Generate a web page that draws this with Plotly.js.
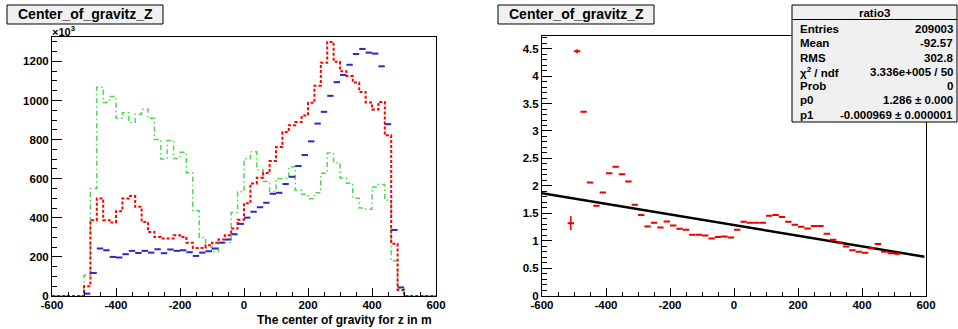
<!DOCTYPE html>
<html><head><meta charset="utf-8">
<script src="https://cdn.plot.ly/plotly-3.0.1.min.js"></script>
<style>html,body{margin:0;padding:0;background:#fff}#chart{width:958px;height:329px}</style>
</head><body><div id="chart"></div>
<script>
// ---- data (left panel: histograms, values in units of 10^3) ----
const binStarts = [-600,-580,-560,-540,-520,-500,-480,-460,-440,-420,-400,-380,-360,-340,-320,-300,-280,-260,-240,-220,
  -200,-180,-160,-140,-120,-100,-80,-60,-40,-20,0,20,40,60,80,100,120,140,160,180,
  200,220,240,260,280,300,320,340,360,380,400,420,440,460,480,500,520,540,560,580];
const binWidth = 20;
const redVals = [0,0,0,0,0,50,388,499,388,376,434,499,511,456,379,328,302,294,294,311,
  302,273,246,246,260,273,289,311,345,390,475,576,605,629,690,762,839,873,890,923,
  988,1075,1193,1300,1198,1150,1125,1092,1044,990,954,993,822,267,31,0,0,0,0,0];
const blueVals = [0,0,0,0,0,12,118,243,234,200,197,214,231,220,231,222,239,219,238,231,
  234,224,205,222,229,243,273,289,316,369,401,431,454,477,523,528,573,610,665,721,
  791,882,942,1024,1094,1131,1183,1238,1264,1245,1240,1175,879,338,44,0,0,0,0,0];
const greenVals = [0,0,0,0,0,106,550,1068,990,1020,909,938,887,930,955,909,801,701,795,704,
  735,631,436,299,251,226,272,272,427,533,702,738,644,586,535,601,601,661,541,520,
  498,528,628,732,682,604,577,500,450,444,558,571,490,180,40,0,0,0,0,0];

// ---- data (right panel: ratio3 with linear fit) ----
const ratioX = [-510,-490,-470,-450,-430,-410,-390,-370,-350,-330,-310,-290,-270,-250,-230,-210,-190,-170,-150,-130,
  -110,-90,-70,-50,-30,-10,10,30,50,70,90,110,130,150,170,190,210,230,250,270,
  290,310,330,350,370,390,410,430,450,470,490,510];
const ratioY = [1.32,4.45,3.35,2.06,1.64,1.88,2.23,2.35,2.21,2.08,1.655,1.47,1.26,1.33,1.24,1.35,1.28,1.22,1.20,1.11,
  1.11,1.095,1.04,1.07,1.08,1.06,1.20,1.345,1.33,1.33,1.33,1.455,1.47,1.435,1.345,1.29,1.255,1.225,1.27,1.27,
  1.13,1.02,0.97,0.894,0.83,0.80,0.78,0.865,0.94,0.80,0.775,0.765];
const ratioErr = [0.13,0.04,0.01,0.005,0.005,0.005,0.005,0.005,0.005,0.005,0.005,0.005,0.005,0.005,0.005,0.005,0.005,0.005,0.005,0.005,
  0.005,0.005,0.005,0.005,0.005,0.005,0.005,0.005,0.005,0.005,0.005,0.005,0.005,0.005,0.005,0.005,0.005,0.005,0.005,0.005,
  0.005,0.005,0.005,0.005,0.005,0.005,0.005,0.005,0.005,0.005,0.01,0.03];
const fitX = [-600, 595];
const fitY = [1.867, 0.710];

// ---- tick labels ----
const xTickVals = [-600,-400,-200,0,200,400,600];
const xTickText = ['-600','-400','-200','0','200','400','600'];
const yTickVals = [0,200,400,600,800,1000,1200];
const yTickText = ['0','200','400','600','800','1000','1200'];
const y2TickVals = [0,0.5,1,1.5,2,2.5,3,3.5,4,4.5];
const y2TickText = ['0','0.5','1','1.5','2','2.5','3','3.5','4','4.5'];

const statLabels = ['Entries','Mean','RMS','χ<sup>2</sup> / ndf','Prob','p0','p1'];
const statValues = ['209003','-92.57','302.8','3.336e+005 / 50','0','1.286 ± 0.000','-0.000969 ± 0.000001'];
const panelTitle = 'Center_of_gravitz_Z';
const statTitle = 'ratio3';
const xTitle = 'The center of gravity for z in m';

// ---- build ----
const W = 958, H = 329;
const fx = v => v / W;
const fy = v => 1 - v / H;
const FONT = 'Liberation Sans, Arial, Helvetica, sans-serif';
const bold = arr => arr.map(s => '<b>' + s + '</b>');

function stepTrace(vals, color, dash, width) {
  const xs = binStarts.concat([binStarts[binStarts.length-1] + binWidth]);
  const ys = vals.concat([vals[vals.length-1]]);
  return {x: xs, y: ys, mode: 'lines', xaxis: 'x', yaxis: 'y', hoverinfo: 'skip',
    line: {shape: 'hv', color: color, width: width, dash: dash}};
}
const bx = [], by = [];
blueVals.forEach((v, i) => { if (v > 0) { bx.push(binStarts[i] + binWidth/2); by.push(v); } });

const traces = [
  stepTrace(greenVals, 'rgb(80,215,80)', '5px,3px,1.5px,3px', 1.5),
  stepTrace(redVals, 'rgb(255,0,0)', '3px,2px', 2),
  {x: bx, y: by, mode: 'markers', xaxis: 'x', yaxis: 'y', marker: {size: 1, color: 'rgb(40,40,210)'},
   error_x: {type: 'constant', value: binWidth/2, thickness: 2, width: 0, color: 'rgb(40,40,210)'}},
  {x: fitX, y: fitY, mode: 'lines', xaxis: 'x2', yaxis: 'y2', line: {color: '#000', width: 2.5}},
  {x: ratioX, y: ratioY, mode: 'markers', xaxis: 'x2', yaxis: 'y2', marker: {size: 1, color: 'rgb(235,0,0)'},
   error_x: {type: 'constant', value: binWidth/2, thickness: 2, width: 0, color: 'rgb(235,0,0)'},
   error_y: {type: 'data', array: ratioErr, thickness: 1.5, width: 0, color: 'rgb(235,0,0)'}}
];

const tickfont = {family: FONT, size: 11.5, color: '#000'};
function axisBase(extra) {
  return Object.assign({showline: true, mirror: true, linecolor: '#000', linewidth: 1,
    ticks: 'inside', tickcolor: '#000', tickwidth: 1, showgrid: false, zeroline: false,
    tickfont: tickfont, fixedrange: true, tickmode: 'array'}, extra);
}
const layout = {
  width: W, height: H, margin: {l: 0, r: 0, t: 0, b: 0},
  paper_bgcolor: '#fff', plot_bgcolor: '#fff', showlegend: false,
  xaxis: axisBase({domain: [fx(52), fx(436)], range: [-600, 600], anchor: 'y', tickvals: xTickVals, ticktext: bold(xTickText),
    ticklen: 8, ticklabelstandoff: -2,
    minor: {ticks: 'inside', tickmode: 'linear', tick0: -600, dtick: 50, ticklen: 4, tickcolor: '#000'}}),
  yaxis: axisBase({domain: [fy(296), fy(37)], range: [0, 1325], anchor: 'x', tickvals: yTickVals, ticktext: bold(yTickText),
    ticklen: 10,
    minor: {ticks: 'inside', tickmode: 'linear', tick0: 0, dtick: 50, ticklen: 5, tickcolor: '#000'}}),
  xaxis2: axisBase({domain: [fx(542), fx(926)], range: [-600, 600], anchor: 'y2', tickvals: xTickVals, ticktext: bold(xTickText),
    ticklen: 8, ticklabelstandoff: -2,
    minor: {ticks: 'inside', tickmode: 'linear', tick0: -600, dtick: 50, ticklen: 4, tickcolor: '#000'}}),
  yaxis2: axisBase({domain: [fy(295.7), fy(36)], range: [0, 4.73], anchor: 'x2', tickvals: y2TickVals, ticktext: bold(y2TickText),
    ticklen: 10,
    minor: {ticks: 'inside', tickmode: 'linear', tick0: 0, dtick: 0.1, ticklen: 5, tickcolor: '#000'}}),
  shapes: [], annotations: []
};

function box(x0, y0, x1, y1, fill) {
  layout.shapes.push({type: 'rect', xref: 'paper', yref: 'paper', x0: fx(x0), x1: fx(x1), y0: fy(y1), y1: fy(y0),
    fillcolor: fill, line: {color: '#000', width: 1}, layer: 'above'});
}
function text(t, x, y, anchor, size) {
  layout.annotations.push({text: '<b>' + t + '</b>', x: fx(x), y: fy(y), xref: 'paper', yref: 'paper', xanchor: anchor, yanchor: 'middle',
    showarrow: false, font: {family: FONT, size: size, color: '#000'}});
}
// title boxes
box(7, 5, 163, 24, '#f0f0f0');
text(panelTitle, 85, 14.5, 'center', 14);
box(498, 5, 654, 24, '#f0f0f0');
text(panelTitle, 576, 14.5, 'center', 14);
// stats box
box(792, 5, 957, 122, '#f0f0f0');
layout.shapes.push({type: 'line', xref: 'paper', yref: 'paper', x0: fx(792), x1: fx(957), y0: fy(19.5), y1: fy(19.5),
  line: {color: '#000', width: 1}, layer: 'above'});
text(statTitle, 874.5, 12.5, 'center', 11.5);
const rowY = [29, 43.3, 57.6, 71.9, 86.2, 100.5, 114.8];
statLabels.forEach((l, i) => { text(l, 798, rowY[i], 'left', 11.5); text(statValues[i], 955, rowY[i], 'right', 11.5); });
// axis title & exponent
text(xTitle, 434, 320, 'right', 12);
text('×10<sup>3</sup>', 50, 30.5, 'left', 11);

Plotly.newPlot('chart', traces, layout, {displayModeBar: false, staticPlot: true});
</script></body></html>
